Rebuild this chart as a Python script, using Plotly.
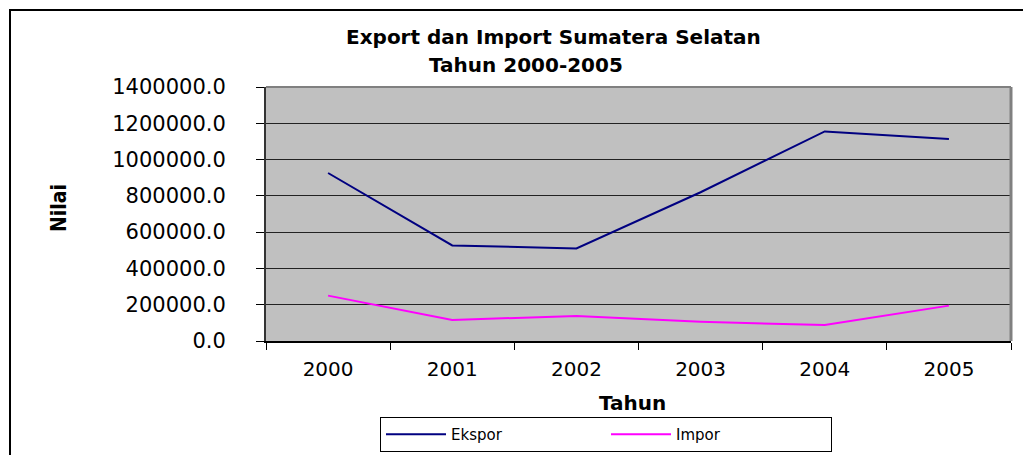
import plotly.graph_objects as go

years = ["2000", "2001", "2002", "2003", "2004", "2005"]
ekspor = [926000, 527000, 510000, 820000, 1155000, 1113000]
impor = [250000, 116000, 138000, 106000, 88000, 195000]
y_ticks = [0, 200000, 400000, 600000, 800000, 1000000, 1200000, 1400000]
y_tick_labels = [f"{v:.1f}" for v in y_ticks]

W, H = 1023, 455
L, R, T, B = 266, 12, 87, 114
pw, ph = W - L - R, H - T - B

def px_x(p):
    return (p - L) / pw

def px_y(p):
    return (H - B - p) / ph

FONT = "DejaVu Sans"

fig = go.Figure()
fig.add_trace(go.Scatter(x=years, y=ekspor, name="Ekspor", mode="lines",
                         line=dict(color="#000080", width=2)))
fig.add_trace(go.Scatter(x=years, y=impor, name="Impor", mode="lines",
                         line=dict(color="#FF00FF", width=2)))

fig.update_layout(
    width=W, height=H,
    margin=dict(l=L, r=R, t=T, b=B, pad=0, autoexpand=False),
    paper_bgcolor="white",
    plot_bgcolor="#C0C0C0",
    font=dict(family=FONT, size=20, color="black"),
    showlegend=True,
    legend=dict(orientation="h", x=px_x(606), xanchor="center",
                y=px_y(452), yanchor="bottom",
                bordercolor="black", borderwidth=1, bgcolor="white",
                font=dict(family=FONT, size=15),
                entrywidth=150, entrywidthmode="pixels",
                itemwidth=60, tracegroupgap=0),
)

fig.update_xaxes(
    type="category", range=[-0.5, 5.5],
    tickson="boundaries", ticks="outside", ticklen=7, tickcolor="black", tickwidth=1,
    showline=True, linecolor="black", linewidth=2,
    showgrid=False, ticklabelstandoff=9,
    tickfont=dict(family=FONT, size=20),
)
fig.update_yaxes(
    range=[0, 1400000], tickvals=y_ticks, ticktext=y_tick_labels,
    ticks="outside", ticklen=8, tickcolor="black", tickwidth=1,
    showline=True, linecolor="#333333", linewidth=2,
    showgrid=True, gridcolor="#222222", gridwidth=1,
    zeroline=False, ticklabelstandoff=26,
    tickfont=dict(family=FONT, size=21),
)

# plot area top/right border
fig.add_shape(type="line", xref="paper", yref="paper", x0=0, x1=1, y0=1, y1=1,
              line=dict(color="#808080", width=2))
fig.add_shape(type="line", xref="paper", yref="paper", x0=1, x1=1, y0=0, y1=1,
              line=dict(color="#808080", width=3))
# outer chart border (clipped at right/bottom)
fig.add_shape(type="rect", xref="paper", yref="paper",
              x0=px_x(10), x1=px_x(1040), y0=px_y(480), y1=px_y(10),
              line=dict(color="black", width=2), fillcolor="rgba(0,0,0,0)")

ann = dict(xref="paper", yref="paper", showarrow=False,
           xanchor="center", yanchor="middle")
fig.add_annotation(text="<b>Export dan Import Sumatera Selatan</b>",
                   x=px_x(553), y=px_y(37), font=dict(family=FONT, size=20), **ann)
fig.add_annotation(text="<b>Tahun 2000-2005</b>",
                   x=px_x(526), y=px_y(65), font=dict(family=FONT, size=20), **ann)
fig.add_annotation(text="<b>Tahun</b>",
                   x=px_x(632), y=px_y(403), font=dict(family=FONT, size=20), **ann)
fig.add_annotation(text="<b>Nilai</b>", textangle=-90,
                   x=px_x(59), y=px_y(208), font=dict(family="DejaVu Sans Condensed, DejaVu Sans", size=21), **ann)

fig.write_html("out.html", config={"displayModeBar": False},
               post_script="document.body.style.margin='0';")
